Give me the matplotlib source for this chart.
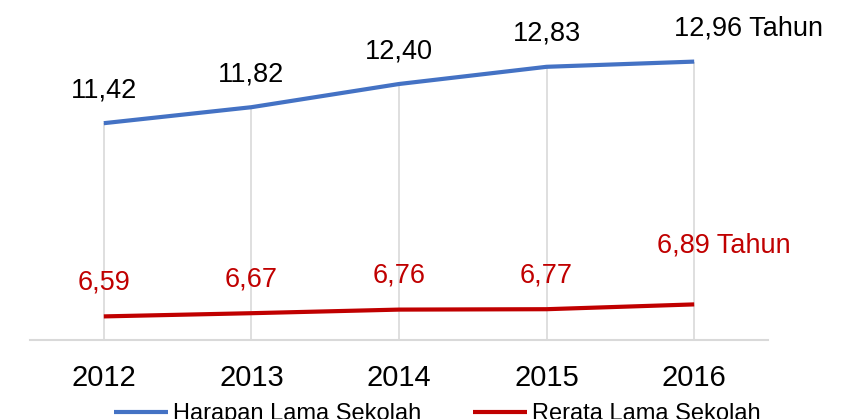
import matplotlib.pyplot as plt
import numpy as np

plt.rcParams['font.family'] = ['Liberation Sans', 'DejaVu Sans']

years = ['2012', '2013', '2014', '2015', '2016']
harapan = [11.42, 11.82, 12.40, 12.83, 12.96]
rerata = [6.59, 6.67, 6.76, 6.77, 6.89]
harapan_labels = ['11,42', '11,82', '12,40', '12,83', '12,96 Tahun']
rerata_labels = ['6,59', '6,67', '6,76', '6,77', '6,89 Tahun']

blue = '#4472C4'
red = '#C00000'

fig = plt.figure(figsize=(8.54, 4.19), dpi=100)
ax = fig.add_axes([30 / 854, 79 / 419, 738 / 854, 320 / 419])
x = np.arange(len(years))

# drop lines from the upper series down to the axis
ax.vlines(x, 6, harapan, color='#D9D9D9', lw=1.2, zorder=1)

ax.plot(x, harapan, color=blue, lw=3, solid_capstyle='butt', label='Harapan Lama Sekolah', zorder=3)
ax.plot(x, rerata, color=red, lw=3, solid_capstyle='butt', label='Rerata Lama Sekolah', zorder=3)

fs = 19.5
for i, (v, t) in enumerate(zip(harapan, harapan_labels)):
    if i == len(years) - 1:
        ax.annotate(t, (i, v), xytext=(-20, 20), textcoords='offset pixels',
                    ha='left', va='bottom', fontsize=fs, color='black')
    else:
        ax.annotate(t, (i, v), xytext=(0, 20), textcoords='offset pixels',
                    ha='center', va='bottom', fontsize=fs, color='black')

for i, (v, t) in enumerate(zip(rerata, rerata_labels)):
    if i == len(years) - 1:
        ax.annotate(t, (i, v), xytext=(-37, 46), textcoords='offset pixels',
                    ha='left', va='bottom', fontsize=fs, color=red)
    else:
        ax.annotate(t, (i, v), xytext=(0, 21), textcoords='offset pixels',
                    ha='center', va='bottom', fontsize=fs, color=red)

ax.set_xlim(-0.5, len(years) - 0.5)
ax.set_ylim(6, 14)
ax.set_xticks(x)
ax.set_xticklabels(years, fontsize=21)
ax.tick_params(axis='x', length=0, pad=17)
ax.set_yticks([])
for s in ['top', 'right', 'left']:
    ax.spines[s].set_visible(False)
ax.spines['bottom'].set_color('#D9D9D9')
ax.spines['bottom'].set_linewidth(1.5)

fig.legend(loc='center', bbox_to_anchor=(0.512, 0.012), ncol=2, frameon=False,
           fontsize=17, handlelength=2.3, handletextpad=0.2, columnspacing=2.2)

fig.savefig('out.png', dpi=100)
